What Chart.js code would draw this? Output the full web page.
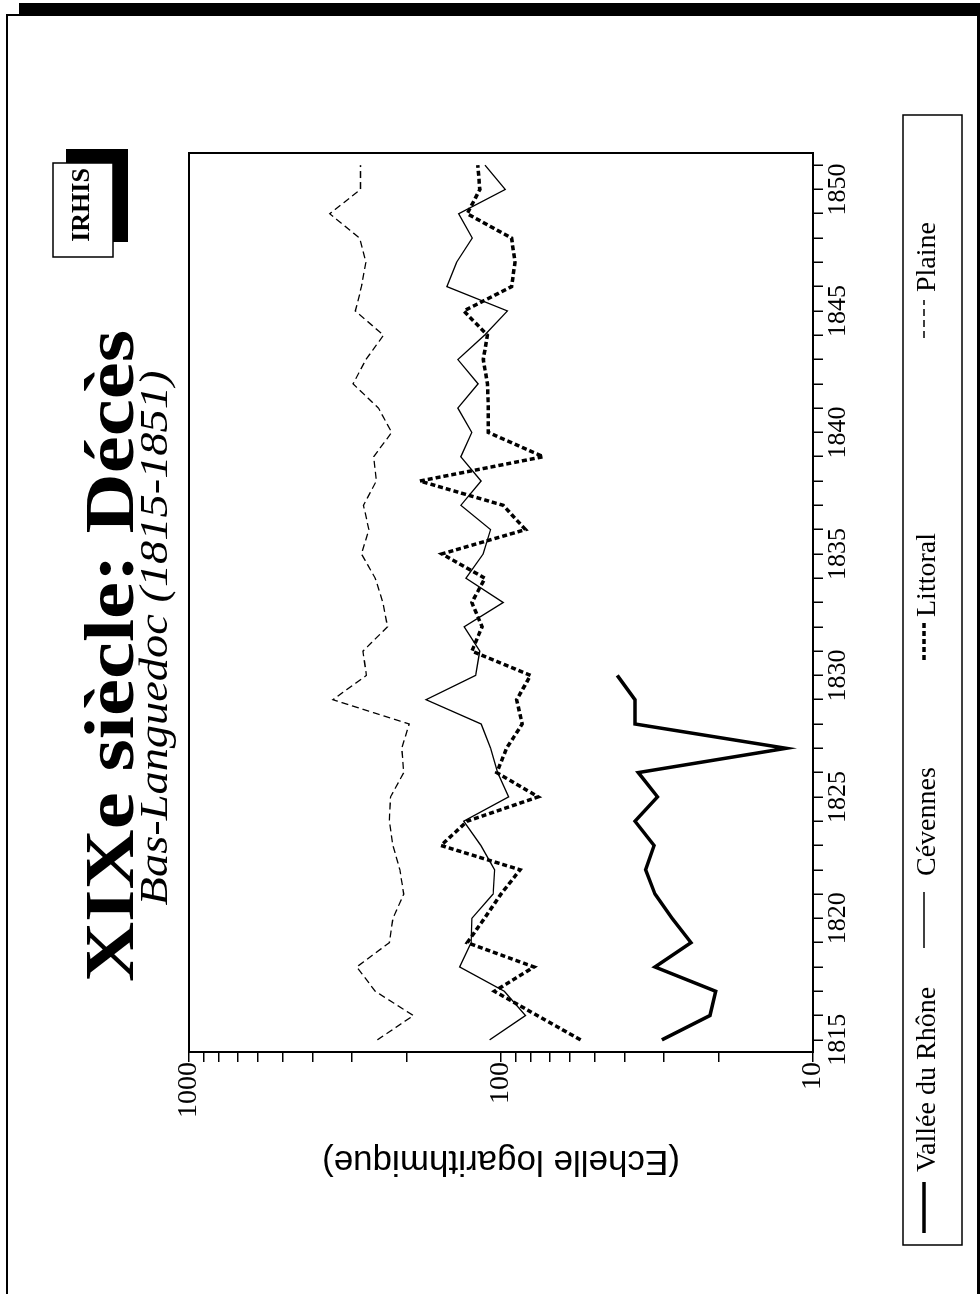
<!DOCTYPE html>
<html>
<head>
<meta charset="utf-8">
<script src="https://cdn.jsdelivr.net/npm/chart.js@4.4.1/dist/chart.umd.min.js"></script>
<style>
  html, body { margin: 0; padding: 0; background: #fff; overflow: hidden; }
  body { width: 980px; height: 1294px; position: relative; }
  #wrap {
    position: absolute; left: 0; top: 0;
    width: 1294px; height: 980px;
    transform-origin: 0 0;
    transform: translateY(1294px) rotate(-90deg);
  }
  #shadowTop { position: absolute; left: 19px; top: 3px; width: 961px; height: 12px; background: #000; }
  #frame {
    position: absolute; left: 6px; top: 14px; width: 969px; height: 1300px;
    border-left: 2px solid #000; border-top: 2px solid #000; border-right: 3px solid #000;
  }
</style>
</head>
<body>
<div id="wrap"><canvas id="decesChart" width="1294" height="980"></canvas></div>
<div id="shadowTop"></div>
<div id="frame"></div>
<script>
// years 1815 -> 1851
var years = [1815, 1816, 1817, 1818, 1819, 1820, 1821, 1822, 1823, 1824,
             1825, 1826, 1827, 1828, 1829, 1830, 1831, 1832, 1833, 1834,
             1835, 1836, 1837, 1838, 1839, 1840, 1841, 1842, 1843, 1844,
             1845, 1846, 1847, 1848, 1849, 1850, 1851];

// Vallee du Rhone only goes to 1830
var valleeRhone = [30.5, 21.4, 20.5, 32.1, 24.6, 28.3, 32.1, 34.4, 32.3, 37.2,
                   31.5, 36.3, 12.2, 37.2, 37.2, 42.4];

var cevennes = [108.8, 83.5, 97.6, 135.7, 124.7, 124, 106, 104.8, 116, 131.6,
                94.5, 102.5, 108, 115.8, 174, 120.6, 117, 131.2, 98.4, 129.6,
                114, 108, 134.5, 115.8, 134.5, 124, 137.5, 118.4, 137.5, 113,
                95.4, 149, 138.8, 123.6, 136.6, 96.9, 112.6];

var littoral = [55.6, 76.5, 105, 78.4, 128.3, 113, 100, 86.9, 155.7, 128.3,
                76, 103.2, 96, 85.5, 89.1, 80.4, 124, 115, 124, 112.6,
                154.7, 83.5, 98.4, 182, 73.2, 109.8, 109.8, 110.5, 114, 110.5,
                131.6, 92.5, 90.2, 92.5, 128.3, 116.9, 118.7];

var plaine = [249, 191, 253, 290, 228, 222, 205, 211, 222, 228,
              226, 205, 208, 197, 346, 270, 277, 231, 239, 253,
              280, 265, 276, 251, 256, 224, 247, 298, 271, 238,
              293, 280, 271, 284, 354, 282, 282];

var logTicks = [10, 20, 30, 40, 50, 60, 70, 80, 90,
                100, 200, 300, 400, 500, 600, 700, 800, 900, 1000];
var logLabels = [10, 100, 1000];

var titleText = "XIXe siècle: Décès";
var subtitleText = "Bas-Languedoc (1815-1851)";
var axisTitle = "(Echelle logarithmique)";

var serif = '"Liberation Serif", "Times New Roman", serif';

// text stretched a little along its length, like the original lettering
function wideText(ctx, text, x, y, stretch) {
  ctx.save();
  ctx.translate(x, y);
  ctx.scale(stretch, 1);
  ctx.fillText(text, 0, 0);
  ctx.restore();
}

// title, logo, frame round the plot and the boxed legend
var pageDecor = {
  id: 'pageDecor',
  afterDraw: function(chart) {
    var ctx = chart.ctx;
    var a = chart.chartArea;
    ctx.save();
    ctx.strokeStyle = '#000';
    ctx.fillStyle = '#000';
    ctx.lineWidth = 2;
    ctx.strokeRect(a.left, a.top, a.right - a.left, a.bottom - a.top);

    ctx.textAlign = 'center';
    ctx.textBaseline = 'alphabetic';
    ctx.font = 'bold 70px ' + serif;
    wideText(ctx, titleText, 638, 133, 1.19);
    ctx.font = 'italic 40px ' + serif;
    wideText(ctx, subtitleText, 656, 167, 1.16);

    // IRHIS logo
    ctx.fillRect(1052, 66, 93, 62);
    ctx.fillStyle = '#fff';
    ctx.fillRect(1037, 53, 94, 60);
    ctx.lineWidth = 1.5;
    ctx.strokeRect(1037, 53, 94, 60);
    ctx.fillStyle = '#000';
    ctx.font = 'bold 26px ' + serif;
    ctx.fillText('IRHIS', 1089, 89);

    // legend
    ctx.strokeRect(49, 903, 1130, 59);
    var spots = [{s0: 61, s1: 112, t: 122}, {s0: 346, s1: 402, t: 418},
                 {s0: 634, s1: 671, t: 677}, {s0: 956, s1: 994, t: 1002}];
    ctx.textAlign = 'left';
    ctx.font = '28px ' + serif;
    chart.data.datasets.forEach(function(ds, i) {
      var p = spots[i];
      ctx.save();
      ctx.lineWidth = ds.borderWidth;
      ctx.setLineDash(ds.borderDash || []);
      ctx.beginPath();
      ctx.moveTo(p.s0, 924);
      ctx.lineTo(p.s1, 924);
      ctx.stroke();
      ctx.restore();
      ctx.fillText(ds.label, p.t, 935);
    });
    ctx.restore();
  }
};

var decesChart = new Chart(document.getElementById('decesChart'), {
  type: 'line',
  data: {
    labels: years,
    datasets: [
      { label: 'Vallée du Rhône', data: valleeRhone, borderColor: '#000', borderWidth: 3.5, pointRadius: 0, tension: 0, fill: false },
      { label: 'Cévennes', data: cevennes, borderColor: '#000', borderWidth: 1.3, pointRadius: 0, tension: 0, fill: false },
      { label: 'Littoral', data: littoral, borderColor: '#000', borderWidth: 3.5, borderDash: [5, 3], pointRadius: 0, tension: 0, fill: false },
      { label: 'Plaine', data: plaine, borderColor: '#000', borderWidth: 1.3, borderDash: [7, 4], pointRadius: 0, tension: 0, fill: false }
    ]
  },
  options: {
    responsive: false,
    animation: false,
    layout: { padding: { top: 189, right: 153, bottom: 117, left: 92 } },
    plugins: {
      legend: { display: false },
      title: { display: false },
      tooltip: { enabled: false }
    },
    scales: {
      x: {
        type: 'linear',
        min: 1814.5,
        max: 1851.5,
        afterBuildTicks: function(axis) {
          axis.ticks = years.map(function(y) { return { value: y }; });
        },
        afterFit: function(axis) { axis.height = 50; },
        ticks: {
          autoSkip: false,
          maxRotation: 0,
          padding: 0,
          color: '#000',
          font: { family: serif, size: 26 },
          callback: function(v) { return v % 5 === 0 ? String(v) : ''; }
        },
        grid: { drawOnChartArea: false, tickLength: 10, color: '#000', lineWidth: 1.5 },
        border: { display: false }
      },
      y: {
        type: 'logarithmic',
        min: 10,
        max: 1000,
        afterBuildTicks: function(axis) {
          axis.ticks = logTicks.map(function(v) { return { value: v }; });
        },
        afterFit: function(axis) { axis.width = 150; },
        ticks: {
          autoSkip: false,
          padding: 0,
          color: '#000',
          font: { family: serif, size: 28 },
          callback: function(v) { return logLabels.indexOf(v) >= 0 ? String(v) : ''; }
        },
        grid: { drawOnChartArea: false, tickLength: 10, color: '#000', lineWidth: 1.5 },
        border: { display: false },
        title: {
          display: true,
          text: axisTitle,
          color: '#000',
          font: { family: '"Liberation Sans", Arial, sans-serif', size: 35, lineHeight: 1 },
          padding: { top: 24, bottom: 0 }
        }
      }
    }
  },
  plugins: [pageDecor]
});
</script>
</body>
</html>
